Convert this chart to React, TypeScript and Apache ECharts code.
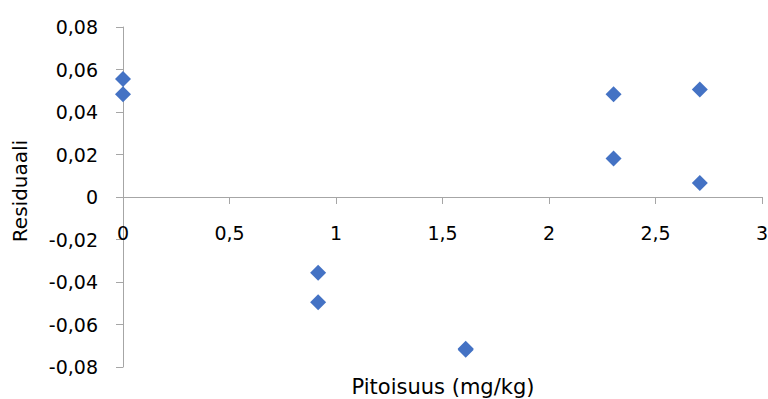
import React, { useEffect, useRef } from "react";
import * as echarts from "echarts";

const xValues = [0, 0, 0.916, 0.916, 1.609, 1.609, 2.303, 2.303, 2.708, 2.708];
const yValues = [0.0555, 0.0483, -0.0356, -0.0495, -0.0719, -0.0714, 0.0483, 0.0181, 0.0506, 0.0066];
const xTitle = "Pitoisuus (mg/kg)";
const yTitle = "Residuaali";

const FONT = "DejaVu Sans";
const AXIS_COLOR = "#a6a6a6";

export default function App() {
  const ref = useRef<HTMLDivElement>(null);
  useEffect(() => {
    if (!ref.current) return;
    const chart = echarts.init(ref.current, null, { renderer: "svg" });
    const data = xValues.map((x, i) => [x, yValues[i]]);
    chart.setOption({
      animation: false,
      backgroundColor: "#ffffff",
      textStyle: { fontFamily: FONT },
      grid: { left: 123, right: 6, top: 27, bottom: 32, containLabel: false, outerBoundsMode: "none" },
      xAxis: {
        type: "value",
        min: 0,
        max: 3,
        interval: 0.5,
        position: "bottom",
        offset: -170,
        axisLine: { show: true, onZero: false, lineStyle: { color: AXIS_COLOR, width: 1 } },
        axisTick: { show: true, inside: false, length: 7, lineStyle: { color: AXIS_COLOR } },
        splitLine: { show: false },
        axisLabel: {
          margin: 26,
          fontSize: 19,
          fontFamily: FONT,
          color: "#000",
          formatter: (v: number) => String(+v.toFixed(1)).replace(".", ","),
        },
      },
      yAxis: {
        type: "value",
        min: -0.08,
        max: 0.08,
        interval: 0.02,
        axisLine: { show: true, onZero: false, lineStyle: { color: AXIS_COLOR, width: 1 } },
        axisTick: { show: true, inside: false, length: 7, lineStyle: { color: AXIS_COLOR } },
        splitLine: { show: false },
        axisLabel: {
          margin: 25,
          fontSize: 19,
          fontFamily: FONT,
          color: "#000",
          formatter: (v: number) => (Math.abs(v) < 1e-9 ? "0" : v.toFixed(2).replace(".", ",")),
        },
      },
      graphic: [
        {
          type: "text",
          x: 443,
          y: 376,
          style: {
            text: xTitle,
            fontSize: 21,
            fontFamily: FONT,
            fill: "#000",
            textAlign: "center",
            textVerticalAlign: "top",
          },
        },
        {
          type: "text",
          x: 20,
          y: 191,
          rotation: Math.PI / 2,
          style: {
            text: yTitle,
            fontSize: 20,
            fontFamily: FONT,
            fill: "#000",
            textAlign: "center",
            textVerticalAlign: "middle",
          },
        },
      ],
      series: [
        {
          type: "scatter",
          symbol: "diamond",
          symbolSize: 16,
          itemStyle: { color: "#4472C4", opacity: 1 },
          data,
        },
      ],
    });
    return () => chart.dispose();
  }, []);
  return (
    <div
      ref={ref}
      style={{ position: "fixed", left: 0, top: 0, width: 768, height: 399 }}
    />
  );
}
